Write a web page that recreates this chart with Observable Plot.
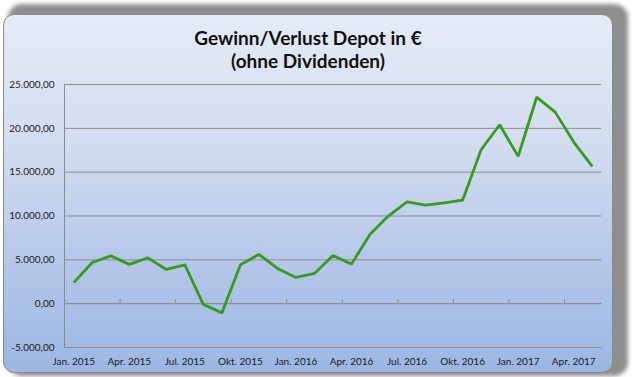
<!DOCTYPE html>
<html>
<head>
<meta charset="utf-8">
<script src="https://cdn.jsdelivr.net/npm/d3@7"></script>
<script src="https://cdn.jsdelivr.net/npm/@observablehq/plot@0.6"></script>
<style>
  html, body { margin: 0; padding: 0; background: #ffffff; }
  #wrap { position: relative; width: 632px; height: 377px; overflow: hidden; }
  #shadow { position: absolute; left: 8px; top: 4px; width: 620px; height: 372px;
    border-radius: 14px; background: #8e8e8e; filter: blur(2px); }
  #card { position: absolute; left: 3px; top: 14px; width: 608px; height: 357px;
    border-radius: 11px; border: 1px solid #8a8a8a;
    background: linear-gradient(to bottom, #e5ebf6 0%, #d3ddf0 35%, #b4c7e9 70%, #9cb6e3 100%); }
  #title { position: absolute; left: 0; top: 26px; width: 616px; text-align: center;
    font-family: Lato, "Open Sans", sans-serif; font-weight: bold; font-size: 19px;
    line-height: 23px; color: #111; }
  #chart { position: absolute; left: 0; top: 0; }
</style>
</head>
<body>
<div id="wrap">
  <div id="shadow"></div>
  <div id="card"></div>
  <div id="title">Gewinn/Verlust Depot in €<br>(ohne Dividenden)</div>
  <div id="chart"></div>
</div>
<script>
const months = [
  "Jan. 2015","Feb. 2015","Mrz. 2015","Apr. 2015","Mai 2015","Jun. 2015",
  "Jul. 2015","Aug. 2015","Sep. 2015","Okt. 2015","Nov. 2015","Dez. 2015",
  "Jan. 2016","Feb. 2016","Mrz. 2016","Apr. 2016","Mai 2016","Jun. 2016",
  "Jul. 2016","Aug. 2016","Sep. 2016","Okt. 2016","Nov. 2016","Dez. 2016",
  "Jan. 2017","Feb. 2017","Mrz. 2017","Apr. 2017","Mai 2017"
];
const values = [
  2400, 4700, 5450, 4480, 5230, 3900,
  4430, -100, -1050, 4430, 5620, 4020,
  2990, 3450, 5500, 4510, 7930, 10020,
  11620, 11240, 11500, 11800, 17560, 20410,
  16800, 23550, 21850, 18430, 15660
];
const yTicks = [-5000, 0, 5000, 10000, 15000, 20000, 25000];
const labelEvery = 3;

const data = months.map((m, i) => ({i, month: m, value: values[i]}));
const labelIdx = months.map((m, i) => i).filter(i => i % labelEvery === 0);
const boundaries = labelIdx.map(i => i - 0.5).filter(b => b > -0.5);

const de = d3.formatLocale({decimal: ",", thousands: ".", grouping: [3], currency: ["", " €"], minus: "-"});
const fmt = de.format(",.2f");

const chart = Plot.plot({
  width: 632,
  height: 377,
  marginLeft: 64,
  marginRight: 31,
  marginTop: 84,
  marginBottom: 30,
  style: {background: "transparent", fontFamily: "Lato, 'Open Sans', sans-serif", fontSize: "10px", color: "#1a1a1a", overflow: "visible"},
  x: {type: "linear", domain: [-0.5, months.length - 0.5]},
  y: {domain: [-5000, 25000]},
  marks: [
    Plot.gridY(yTicks, {stroke: "#8c8c8c", strokeOpacity: 1, strokeWidth: 1}),
    Plot.ruleX([-0.5], {stroke: "#8c8c8c", strokeWidth: 1}),
    Plot.ruleY([0], {stroke: "#8c8c8c", strokeWidth: 1}),
    Plot.ruleX(boundaries, {y1: 0, y2: 0, insetTop: -4, stroke: "#8c8c8c", strokeWidth: 1}),
    Plot.axisY(yTicks, {tickSize: 0, tickPadding: 10, tickFormat: fmt, label: null, fill: "#1a1a1a"}),
    Plot.axisX(labelIdx, {tickSize: 0, tickPadding: 10, tickFormat: i => months[i], label: null, fill: "#1a1a1a"}),
    Plot.line(data, {x: "i", y: "value", stroke: "#3a9a1f", strokeWidth: 2.8, strokeLinejoin: "miter", strokeLinecap: "butt"})
  ]
});
document.getElementById("chart").appendChild(chart);
</script>
</body>
</html>
